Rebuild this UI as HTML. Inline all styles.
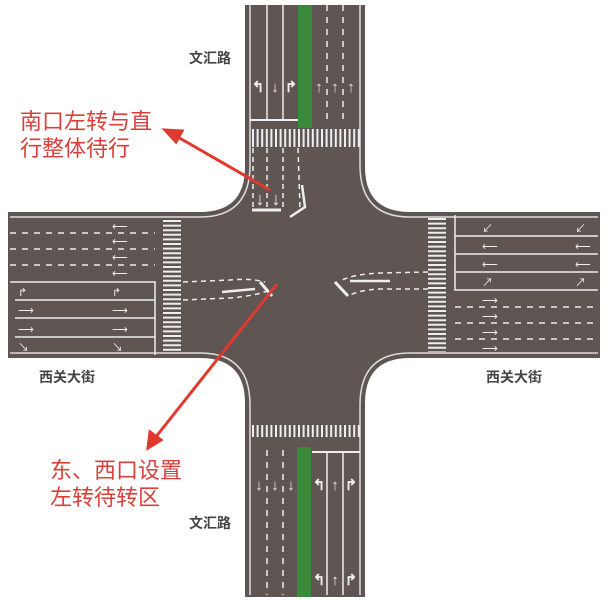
<!DOCTYPE html>
<html><head><meta charset="utf-8"><style>
body{margin:0;background:#fff;}
svg{display:block}
</style></head><body>
<svg width="614" height="600" viewBox="0 0 614 600" xmlns="http://www.w3.org/2000/svg" font-family="Liberation Sans, Noto Sans CJK SC, sans-serif">
<rect width="614" height="600" fill="#fff"/>
<g fill="#5f5553">
<rect x="245" y="5" width="120" height="592"/>
<rect x="8" y="212" width="592" height="146"/>
<path d="M200 212 Q245 212 245 167 L245 212Z"/>
<path d="M410 212 Q365 212 365 167 L365 212Z"/>
<path d="M200 358 Q245 358 245 403 L245 358Z"/>
<path d="M410 358 Q365 358 365 403 L365 358Z"/>
</g>
<g fill="none" stroke="#ddd" stroke-width="1.5">
<path d="M250 5 L250 165 Q250 217 200 217 L10 217"/>
<path d="M360 5 L360 165 Q360 217 410 217 L598 217"/>
<path d="M250 595 L250 405 Q250 353 200 353 L10 353"/>
<path d="M360 595 L360 405 Q360 353 410 353 L598 353"/>
</g>
<rect x="298" y="5" width="14" height="123" fill="#3a8a3a"/>
<rect x="297" y="447" width="14" height="150" fill="#3a8a3a"/>
<g stroke="#eee" stroke-width="1.5" fill="none">
<line x1="267" y1="5" x2="267" y2="120"/><line x1="283" y1="5" x2="283" y2="120"/>
<line x1="250" y1="120" x2="298" y2="120" stroke-width="2"/>
<line x1="327" y1="5" x2="327" y2="122" stroke-dasharray="6 6"/><line x1="343" y1="5" x2="343" y2="122" stroke-dasharray="6 6"/>
<line x1="267" y1="450" x2="267" y2="595" stroke-dasharray="6 6"/><line x1="283" y1="450" x2="283" y2="595" stroke-dasharray="6 6"/>
<line x1="327" y1="452" x2="327" y2="595"/><line x1="343" y1="452" x2="343" y2="595"/>
<line x1="312" y1="452" x2="360" y2="452" stroke-width="2"/>
<line x1="10" y1="233" x2="155" y2="233" stroke-dasharray="6 6"/>
<line x1="10" y1="249" x2="155" y2="249" stroke-dasharray="6 6"/>
<line x1="10" y1="265" x2="155" y2="265" stroke-dasharray="6 6"/>
<path d="M10 282 L155 282 L155 355"/>
<line x1="15" y1="300" x2="155" y2="300"/><line x1="15" y1="318" x2="155" y2="318"/><line x1="15" y1="337" x2="155" y2="337"/>
<path d="M598 290 L455 290 L455 215"/>
<line x1="455" y1="236" x2="598" y2="236"/><line x1="455" y1="254" x2="598" y2="254"/><line x1="455" y1="272" x2="598" y2="272"/>
<line x1="455" y1="307" x2="598" y2="307" stroke-dasharray="6 6"/>
<line x1="455" y1="323" x2="598" y2="323" stroke-dasharray="6 6"/>
<line x1="455" y1="339" x2="598" y2="339" stroke-dasharray="6 6"/>
<path d="M183 282 L230 280 Q250 278 265 282" stroke-dasharray="5 4"/>
<path d="M183 300 L230 298 Q255 296 270 290" stroke-dasharray="5 4"/>
<path d="M428 272 L380 273 Q355 274 342 280" stroke-dasharray="5 4"/>
<path d="M428 289 L380 289 Q360 290 350 295" stroke-dasharray="5 4"/>
<path d="M260 282 L272 296" stroke-width="3"/>
<path d="M335 282 L348 296" stroke-width="3"/>
<line x1="222" y1="292" x2="255" y2="289" stroke-width="2.5"/>
<line x1="350" y1="281" x2="390" y2="281" stroke-width="2.5"/>
<line x1="253" y1="148" x2="253" y2="208" stroke-dasharray="5 4"/>
<line x1="267" y1="148" x2="267" y2="208" stroke-dasharray="5 4"/>
<line x1="283" y1="148" x2="283" y2="208" stroke-dasharray="5 4"/>
<line x1="298" y1="148" x2="300" y2="208" stroke-dasharray="5 4"/>
<line x1="252" y1="210" x2="281" y2="210" stroke-width="3"/>
<path d="M290 217 L305 207 L302 185" stroke-width="2.5"/>
</g>
<g stroke="#eee" stroke-width="2.2">
<line x1="252" y1="138" x2="362" y2="138" stroke-dasharray="2 2.6" stroke-width="18"/>
<line x1="252" y1="431" x2="362" y2="431" stroke-dasharray="2 2.6" stroke-width="12"/>
<line x1="172" y1="220" x2="172" y2="352" stroke-dasharray="2 2.6" stroke-width="18"/>
<line x1="437" y1="218" x2="437" y2="352" stroke-dasharray="2 2.6" stroke-width="18"/>
</g>
<g fill="#eee" font-size="15" font-weight="bold">
<text x="258" y="92" text-anchor="middle">↰</text><text x="275" y="92" text-anchor="middle">↓</text><text x="291" y="92" text-anchor="middle">↱</text>
<text x="319" y="92" text-anchor="middle">↑</text><text x="335" y="92" text-anchor="middle">↑</text><text x="351" y="92" text-anchor="middle">↑</text>
<text x="259" y="490" text-anchor="middle">↓</text><text x="275" y="490" text-anchor="middle">↓</text><text x="291" y="490" text-anchor="middle">↓</text>
<text x="319" y="490" text-anchor="middle">↰</text><text x="335" y="490" text-anchor="middle">↑</text><text x="351" y="490" text-anchor="middle">↱</text>
<text x="319" y="585" text-anchor="middle">↰</text><text x="335" y="585" text-anchor="middle">↑</text><text x="351" y="585" text-anchor="middle">↱</text>
<text x="260" y="205" text-anchor="middle" font-size="18">↓</text><text x="276" y="205" text-anchor="middle" font-size="18">↓</text>
</g>
<g fill="#eee" font-size="11">
<text x="112" y="230">⟵</text><text x="112" y="245">⟵</text><text x="112" y="261">⟵</text><text x="112" y="277">⟵</text>
<text x="18" y="296">↱</text><text x="112" y="296">↱</text>
<text x="18" y="314">⟶</text><text x="112" y="314">⟶</text>
<text x="18" y="333">⟶</text><text x="112" y="333">⟶</text>
<text x="18" y="351">↘</text><text x="112" y="351">↘</text>
<text x="482" y="232">↙</text><text x="575" y="232">↙</text>
<text x="482" y="250">⟵</text><text x="575" y="250">⟵</text>
<text x="482" y="268">⟵</text><text x="575" y="268">⟵</text>
<text x="482" y="286">↗</text><text x="575" y="286">↗</text>
<text x="482" y="304">⟶</text><text x="482" y="320">⟶</text><text x="482" y="336">⟶</text><text x="482" y="352">⟶</text>
</g>
<g stroke="#e03a30" stroke-width="3" fill="#e03a30">
<line x1="270" y1="190" x2="176" y2="136"/>
<path d="M165 130 L182 131 L176 142Z"/>
<line x1="277" y1="284" x2="155" y2="438"/>
<path d="M148 448 L150 432 L161 440Z"/>
</g>
<g font-weight="bold" fill="#444" font-size="14">
<text x="189" y="63">文汇路</text>
<text x="189" y="528">文汇路</text>
<text x="39" y="382">西关大街</text>
<text x="486" y="382">西关大街</text>
</g>
<g fill="#d9403a" font-size="22">
<text x="20" y="129">南口左转与直</text>
<text x="20" y="156">行整体待行</text>
<text x="50" y="478">东、西口设置</text>
<text x="50" y="505">左转待转区</text>
</g>
</svg>
</body></html>
